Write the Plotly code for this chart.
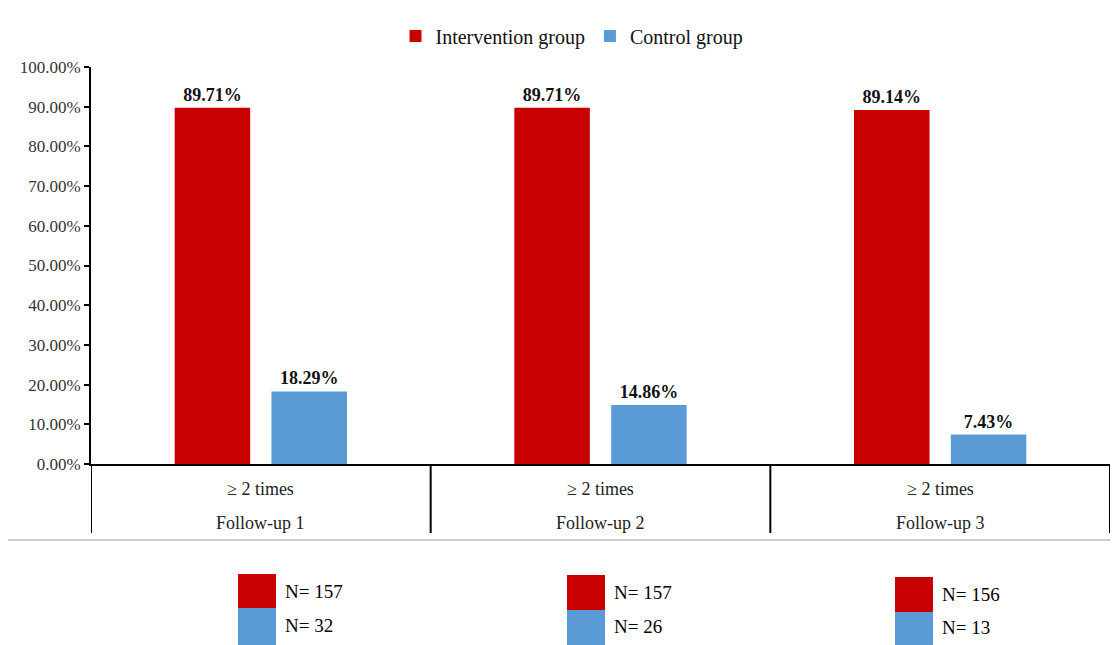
import plotly.graph_objects as go

# ---- data ----
followups = ["Follow-up 1", "Follow-up 2", "Follow-up 3"]
inner_label = ["≥ 2 times", "≥ 2 times", "≥ 2 times"]
intervention_pct = [89.71, 89.71, 89.14]
control_pct = [18.29, 14.86, 7.43]
n_intervention = [157, 157, 156]
n_control = [32, 26, 13]
y_ticks = [0, 10, 20, 30, 40, 50, 60, 70, 80, 90, 100]
series_names = ["Intervention group", "Control group"]

# ---- style ----
RED = "#C80000"
BLUE = "#5B9BD5"
SERIF = "Liberation Serif"
W, H = 1112, 645
L, R, T, B = 91, 2, 67, 181
PW = W - L - R
PH = H - T - B

def px_x(px):
    return (px - L) / PW

def px_y(py):
    return (H - B - py) / PH

fig = go.Figure()
fig.add_trace(go.Bar(
    x=followups, y=intervention_pct, name=series_names[0],
    marker=dict(color=RED, line=dict(width=0)),
    text=[f"{v:.2f}%" for v in intervention_pct], textposition="outside",
    texttemplate="<b>%{text}</b>",
    textfont=dict(family=SERIF, size=18, color="#111111"),
    cliponaxis=False,
))
fig.add_trace(go.Bar(
    x=followups, y=control_pct, name=series_names[1],
    marker=dict(color=BLUE, line=dict(width=0)),
    text=[f"{v:.2f}%" for v in control_pct], textposition="outside",
    texttemplate="<b>%{text}</b>",
    textfont=dict(family=SERIF, size=18, color="#111111"),
    cliponaxis=False,
))

shapes = []
annotations = []

# two-level category labels under the axis
for i, cat in enumerate(followups):
    annotations.append(dict(xref="x", yref="paper", x=cat, y=px_y(489),
                            xanchor="center", yanchor="middle", showarrow=False,
                            text=inner_label[i],
                            font=dict(family=SERIF, size=18, color="#222222")))
    annotations.append(dict(xref="x", yref="paper", x=cat, y=px_y(523),
                            xanchor="center", yanchor="middle", showarrow=False,
                            text=cat,
                            font=dict(family=SERIF, size=18, color="#222222")))
# group dividers at category boundaries
for k in range(len(followups) + 1):
    shapes.append(dict(type="line", xref="x", yref="paper", x0=k - 0.5, x1=k - 0.5,
                       y0=px_y(464), y1=px_y(533), line=dict(color="#000000", width=2)))

# N tables below chart
sw_left = [238, 567, 895]
sw_top = [574, 575, 577]
sw_mid = [608, 610, 612]
sw_bot = 645
sw_w = 38
for i in range(3):
    x0 = px_x(sw_left[i]); x1 = px_x(sw_left[i] + sw_w)
    shapes.append(dict(type="rect", xref="paper", yref="paper", x0=x0, x1=x1,
                       y0=px_y(sw_mid[i]), y1=px_y(sw_top[i]),
                       fillcolor=RED, line=dict(width=0), layer="above"))
    shapes.append(dict(type="rect", xref="paper", yref="paper", x0=x0, x1=x1,
                       y0=px_y(sw_bot), y1=px_y(sw_mid[i]),
                       fillcolor=BLUE, line=dict(width=0), layer="above"))
    annotations.append(dict(xref="paper", yref="paper", x=px_x(sw_left[i] + sw_w + 7),
                            y=px_y((sw_top[i] + sw_mid[i]) / 2), xanchor="left", yanchor="middle",
                            text=f"N= {n_intervention[i]}", showarrow=False,
                            font=dict(family=SERIF, size=19, color="#000000")))
    annotations.append(dict(xref="paper", yref="paper", x=px_x(sw_left[i] + sw_w + 7),
                            y=px_y((sw_mid[i] + sw_bot) / 2 - 1), xanchor="left", yanchor="middle",
                            text=f"N= {n_control[i]}", showarrow=False,
                            font=dict(family=SERIF, size=19, color="#000000")))
# thin gray separator line
shapes.append(dict(type="line", xref="paper", yref="paper", x0=px_x(8), x1=1.0,
                   y0=px_y(540), y1=px_y(540), line=dict(color="#9a9a9a", width=1)))

fig.update_layout(
    width=W, height=H,
    margin=dict(l=L, r=R, t=T, b=B),
    paper_bgcolor="white", plot_bgcolor="white",
    barmode="group", bargap=0.43, bargroupgap=0.22,
    font=dict(family=SERIF, color="#000000"),
    legend=dict(orientation="h", x=px_x(572), xanchor="center", y=px_y(36), yanchor="middle",
                font=dict(family=SERIF, size=20, color="#111111"), itemwidth=30,
                traceorder="normal"),
    shapes=shapes, annotations=annotations,
)
fig.update_yaxes(range=[0, 100], tickvals=y_ticks, ticktext=[f"{v:.2f}%" for v in y_ticks],
                 showgrid=False, zeroline=False, showline=True, linecolor="#000000", linewidth=2,
                 ticks="outside", ticklen=5, tickwidth=2, tickcolor="#000000",
                 tickfont=dict(family=SERIF, size=17, color="#333333"))
fig.update_xaxes(showline=True, linecolor="#000000", linewidth=2,
                 showticklabels=False, ticks="", range=[-0.5, len(followups) - 0.5])

fig.write_html("out.html")
